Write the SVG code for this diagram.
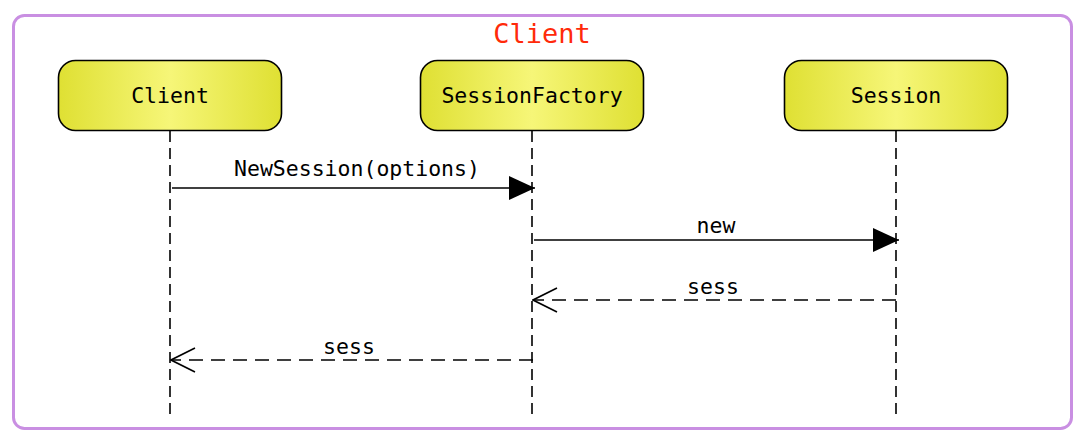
<svg xmlns="http://www.w3.org/2000/svg" width="1090" height="448" viewBox="0 0 1090 448">
<style>
.frame{fill:#fff;stroke:#c98fe2;stroke-width:3}
.title{font-family:"DejaVu Sans Mono","Liberation Mono",monospace;font-size:27px;fill:#ff2a0a;text-anchor:middle}
.box{fill:url(#yg);stroke:#000;stroke-width:1.6}
.lbl{font-family:"DejaVu Sans Mono","Liberation Mono",monospace;font-size:21.5px;fill:#000;text-anchor:middle}
.life{stroke:#000;stroke-width:1.6;stroke-dasharray:11,6;fill:none}
.msg{stroke:#000;stroke-width:1.6;fill:none}
.ret{stroke:#000;stroke-width:1.6;fill:none;stroke-dasharray:14,8}
</style>
<defs>
<linearGradient id="yg" x1="0" y1="0" x2="1" y2="0">
<stop offset="0" stop-color="#dfe033"/>
<stop offset="0.5" stop-color="#f6f678"/>
<stop offset="1" stop-color="#dfe033"/>
</linearGradient>
<marker id="fill" markerWidth="26" markerHeight="24" refX="26" refY="12" orient="auto" markerUnits="userSpaceOnUse">
<path d="M0,0 L26,12 L0,24 Z" fill="#000"/>
</marker>
<marker id="open" markerWidth="26" markerHeight="26" refX="25" refY="13" orient="auto" markerUnits="userSpaceOnUse">
<path d="M1,1 L25,13 L1,25" fill="none" stroke="#000" stroke-width="1.6"/>
</marker>
</defs>
<rect class="frame" x="13.5" y="15.5" width="1058" height="413" rx="11"/>
<text class="title" x="542" y="43">Client</text>
<g id="lifelines">
<line class="life" x1="170" y1="131" x2="170" y2="420"/>
<line class="life" x1="532" y1="131" x2="532" y2="420"/>
<line class="life" x1="896" y1="131" x2="896" y2="420"/>
</g>
<g id="node-client">
<rect class="box" x="58.5" y="60.5" width="223" height="70" rx="17"/>
<text class="lbl" x="170" y="103">Client</text>
</g>
<g id="node-sessionfactory">
<rect class="box" x="420.5" y="60.5" width="223" height="70" rx="17"/>
<text class="lbl" x="532" y="103">SessionFactory</text>
</g>
<g id="node-session">
<rect class="box" x="784.5" y="60.5" width="223" height="70" rx="17"/>
<text class="lbl" x="896" y="103">Session</text>
</g>
<g id="connectors">
<line class="msg" x1="172" y1="188" x2="535" y2="188" marker-end="url(#fill)"/>
<text class="lbl" x="357" y="176">NewSession(options)</text>
<line class="msg" x1="534" y1="240" x2="899" y2="240" marker-end="url(#fill)"/>
<text class="lbl" x="716" y="233">new</text>
<line class="ret" x1="896" y1="300" x2="533" y2="300" marker-end="url(#open)"/>
<text class="lbl" x="713" y="294">sess</text>
<line class="ret" x1="533" y1="360" x2="171" y2="360" marker-end="url(#open)"/>
<text class="lbl" x="349" y="354">sess</text>
</g>
</svg>
